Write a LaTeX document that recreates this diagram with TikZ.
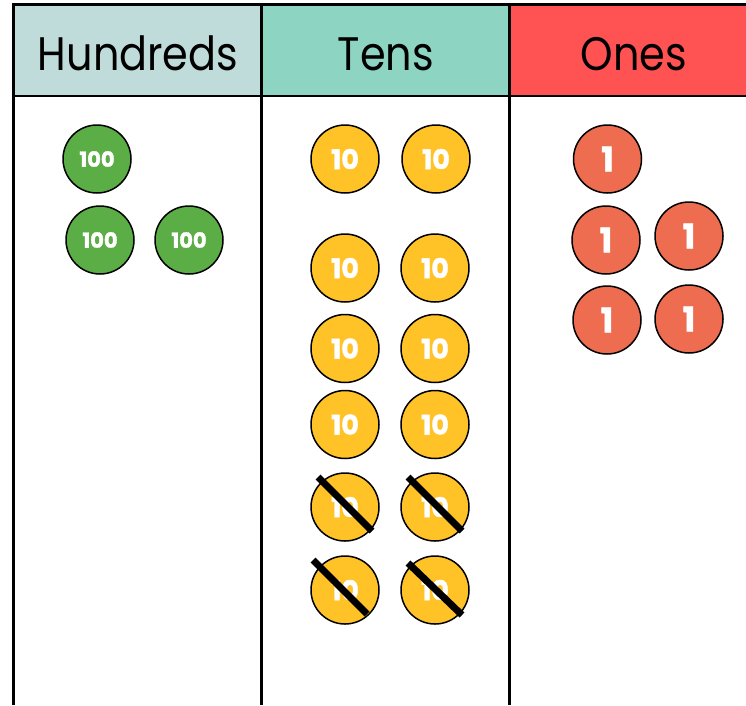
\documentclass[tikz,border=0pt]{standalone}
\usepackage{fontspec}
\setmainfont{Poppins}
\newfontfamily\coinfont{Poppins}[BoldFeatures={FakeBold=1.5}]
\usetikzlibrary{calc}
\definecolor{hundhead}{HTML}{C0DCDA}
\definecolor{tenshead}{HTML}{8DD5C2}
\definecolor{oneshead}{HTML}{FF5252}
\definecolor{hundcoin}{HTML}{5BAD46}
\definecolor{tenscoin}{HTML}{FFC328}
\definecolor{onescoin}{HTML}{EE6C50}
\newcommand{\headtext}[1]{\scalebox{0.88}[1]{#1}}
\tikzstyle{header} = [anchor=base, inner sep=0pt, font=\fontsize{47}{47}\selectfont]
\tikzstyle{coin} = [circle, minimum size=68pt, inner sep=0pt, draw=black, line width=1.5pt, text=white]
\tikzstyle{hundred} = [coin, fill=hundcoin, font=\coinfont\bfseries\fontsize{21}{21}\selectfont]
\tikzstyle{ten} = [coin, fill=tenscoin, font=\coinfont\bfseries\fontsize{27}{27}\selectfont]
\tikzstyle{one} = [coin, fill=onescoin, font=\coinfont\bfseries\fontsize{34}{34}\selectfont]
\tikzstyle{cross} = [line width=7pt, black]
\tikzstyle{rule} = [line width=2.5pt, black]

\begin{document}
\begin{tikzpicture}[x=1pt, y=-1pt]
\useasboundingbox (0,0) rectangle (746,705);

% header cells
\fill [hundhead] (13.7,4.5) rectangle (261.5,96);
\fill [tenshead] (261.5,4.5) rectangle (509.5,96);
\fill [oneshead] (509.5,4.5) rectangle (746,96);
\draw [rule] (746,4.5) -- (13.7,4.5) -- (13.7,705);
\draw [rule] (13.7,96) -- (746,96);
\draw [rule] (261.5,4.5) -- (261.5,705);
\draw [rule] (509.5,4.5) -- (509.5,705);

\node (hund) [header] at (138,70) {\headtext{Hundreds}};
\node (tens) [header] at (386,70) {\headtext{Tens}};
\node (ones) [header] at (634,70) {\headtext{Ones}};

% hundreds
\node (h1) [hundred] at (97,159) {100};
\node (h2) [hundred] at (100,240) {100};
\node (h3) [hundred] at (189,240) {100};

% tens
\node (t1) [ten] at (345,159) {10};
\node (t2) [ten] at (436,159) {10};
\node (t3) [ten] at (345,268) {10};
\node (t4) [ten] at (435,268) {10};
\node (t5) [ten] at (345,348.5) {10};
\node (t6) [ten] at (435,348.5) {10};
\node (t7) [ten] at (345,424.5) {10};
\node (t8) [ten] at (435,424.5) {10};
\node (t9) [ten] at (345,507) {10};
\node (t10) [ten] at (435,507) {10};
\node (t11) [ten] at (345,590) {10};
\node (t12) [ten] at (435,590) {10};

% ones
\node (o1) [one] at (607.5,159) {1};
\node (o2) [one] at (606,240) {1};
\node (o3) [one] at (689,236) {1};
\node (o4) [one] at (607,320) {1};
\node (o5) [one] at (689,319) {1};

% crossed out tens
\draw [cross] ($(t9)+(-27,-30)$) -- ($(t9)+(27,24)$);
\draw [cross] ($(t10)+(-27,-30)$) -- ($(t10)+(27,24)$);
\draw [cross] ($(t11)+(-32,-30)$) -- ($(t11)+(22,24)$);
\draw [cross] ($(t12)+(-27,-27)$) -- ($(t12)+(27,25)$);

\end{tikzpicture}
\end{document}
